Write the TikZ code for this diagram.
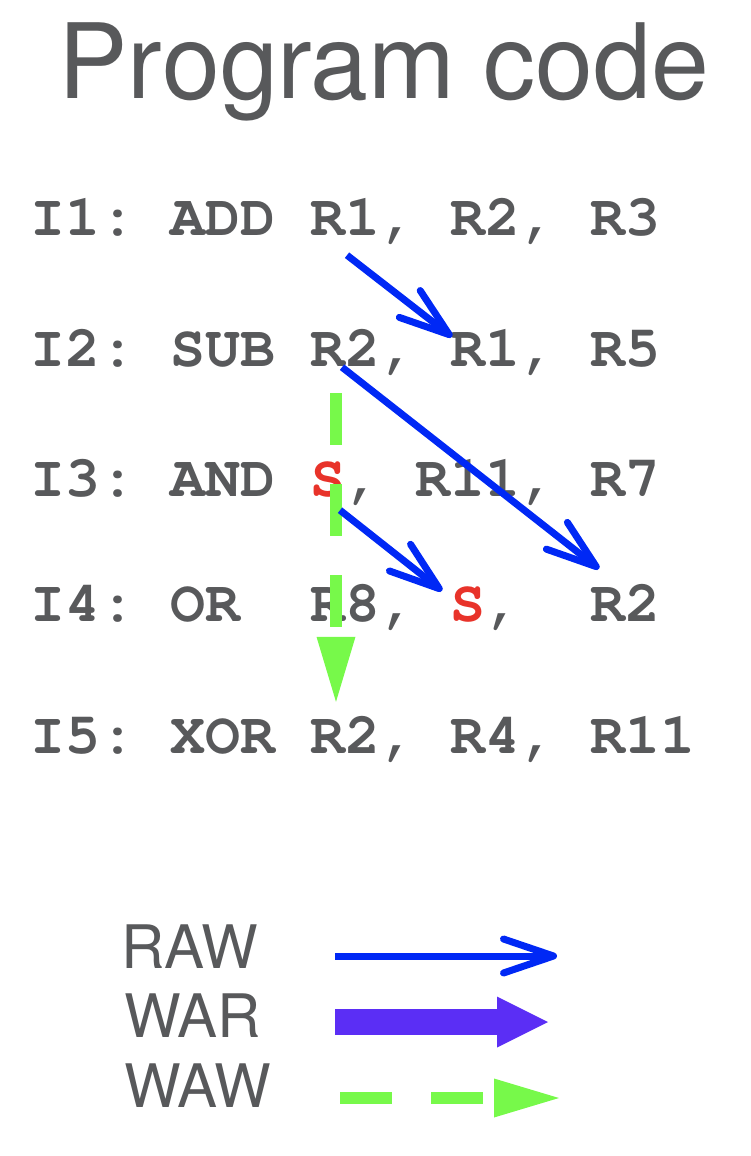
\documentclass[tikz,border=0pt]{standalone}
\usepackage[T1]{fontenc}
\usepackage{xcolor}
\usepackage{tikz}
\usetikzlibrary{arrows.meta}
\definecolor{PCGray}{HTML}{58595B}
\definecolor{PCBlue}{HTML}{0028F5}
\definecolor{PCPurple}{HTML}{5B2EF5}
\definecolor{PCGreen}{HTML}{77F94A}
\definecolor{PCRed}{HTML}{E8332A}
\newcommand\pccol[1]{30+#1*35}
\tikzset{
  code/.style={anchor=base west,inner sep=0pt,text height=35pt,text depth=0pt,text=PCGray,font=\fontfamily{pcr}\fontseries{b}\fontsize{58.3}{60}\selectfont\frenchspacing},
  legend/.style={anchor=base west,inner sep=0pt,text=PCGray,font=\fontfamily{phv}\fontsize{60}{64}\selectfont},
  rawarrow/.style={draw=PCBlue,line width=7pt,-{Straight Barb[length=50pt,width=34pt,round]}},
  wararrow/.style={draw=PCPurple,line width=26pt,-{Triangle[length=51pt,width=51pt,line width=0pt]}},
  wawarrow/.style={draw=PCGreen,line width=12pt,dash pattern=on 52pt off 39pt,-{Triangle[length=65pt,width=39pt,line width=0pt]}}
}

\begin{document}
\begin{tikzpicture}[x=1pt,y=-1pt]
\useasboundingbox (0,0) rectangle (750,1156);
\node[anchor=base,inner sep=0pt,text=PCGray,font=\fontfamily{phv}\fontsize{104}{110}\selectfont] (title) at (384,99) {Program code};
% code lines
\node[code] (i1op) at ({\pccol{0}},235) {I1: ADD};
\node[code] (i1d) at ({\pccol{8}},235) {R1,};
\node[code] (i1s) at ({\pccol{12}},235) {R2,};
\node[code] (i1t) at ({\pccol{16}},235) {R3};
\node[code] (i2op) at ({\pccol{0}},366) {I2: SUB};
\node[code] (i2d) at ({\pccol{8}},366) {R2,};
\node[code] (i2s) at ({\pccol{12}},366) {R1,};
\node[code] (i2t) at ({\pccol{16}},366) {R5};
\node[code] (i3op) at ({\pccol{0}},496) {I3: AND};
\node[code] (i3d) at ({\pccol{8}},496) {\textcolor{PCRed}{S},};
\node[code] (i3s) at ({\pccol{11}},496) {R11,};
\node[code] (i3t) at ({\pccol{16}},496) {R7};
\node[code] (i4op) at ({\pccol{0}},621) {I4: OR};
\node[code] (i4d) at ({\pccol{8}},621) {R8,};
\node[code] (i4s) at ({\pccol{12}},621) {\textcolor{PCRed}{S},};
\node[code] (i4t) at ({\pccol{16}},621) {R2};
\node[code] (i5op) at ({\pccol{0}},753) {I5: XOR};
\node[code] (i5d) at ({\pccol{8}},753) {R2,};
\node[code] (i5s) at ({\pccol{12}},753) {R4,};
\node[code] (i5t) at ({\pccol{16}},753) {R11};
% dependences
\draw[wawarrow] ([shift={(26,27)}]i2d.south west) -- ([shift={(26,-16)}]i5d.north west);
\draw[rawarrow] ([shift={(37,20)}]i1d.south west) -- ([shift={(2,6)}]i2s.north west);
\draw[rawarrow] ([shift={(32,1)}]i2d.south west) -- ([shift={(9,-17)}]i4t.north west);
\draw[rawarrow] ([shift={(30,14)}]i3d.south west) -- ([shift={(-8,5)}]i4s.north west);
% legend
\node[legend] (rawl) at (121,968) {RAW};
\node[legend] (warl) at (124,1037) {WAR};
\node[legend] (wawl) at (124,1107) {WAW};
\coordinate (rawa) at (335,956);
\coordinate (rawb) at (557,956);
\coordinate (wara) at (335,1022);
\coordinate (warb) at (548,1022);
\coordinate (wawa) at (340,1098);
\coordinate (wawb) at (559,1098);
\draw[rawarrow] (rawa) -- (rawb);
\draw[wararrow] (wara) -- (warb);
\draw[wawarrow] (wawa) -- (wawb);
\end{tikzpicture}
\end{document}
